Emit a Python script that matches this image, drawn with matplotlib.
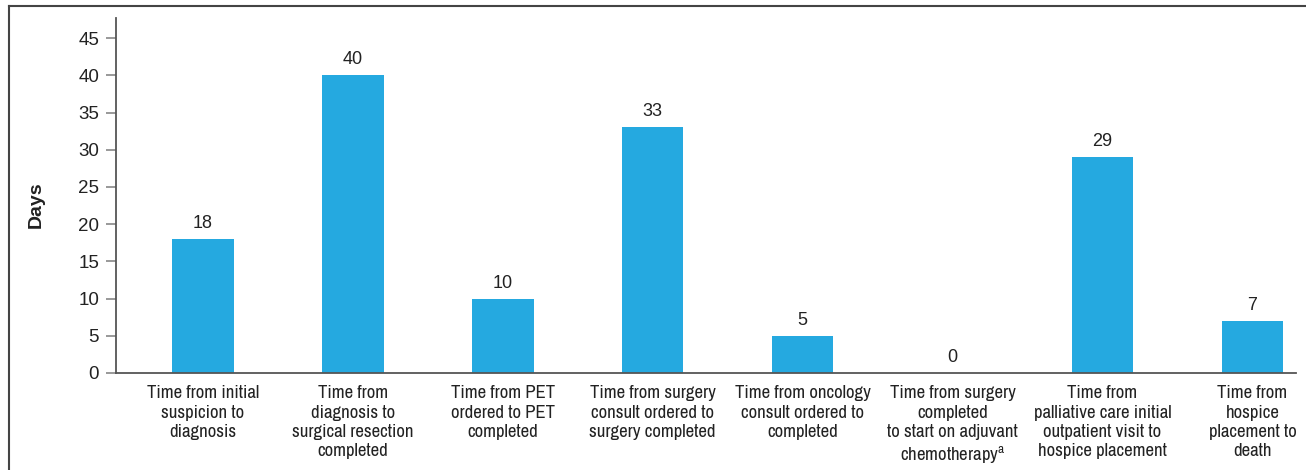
import matplotlib
matplotlib.use('Agg')
import matplotlib.pyplot as plt
from matplotlib.lines import Line2D

# data
categories = [
    "Time from initial\nsuspicion to\ndiagnosis",
    "Time from\ndiagnosis to\nsurgical resection\ncompleted",
    "Time from PET\nordered to PET\ncompleted",
    "Time from surgery\nconsult ordered to\nsurgery completed",
    "Time from oncology\nconsult ordered to\ncompleted",
    "Time from surgery\ncompleted\nto start on adjuvant\nchemotherapy$^{\\mathregular{a}}$",
    "Time from\npalliative care initial\noutpatient visit to\nhospice placement",
    "Time from\nhospice\nplacement to\ndeath",
]
days = [18, 40, 10, 33, 5, 0, 29, 7]
yticks = [0, 5, 10, 15, 20, 25, 30, 35, 40, 45]

bar_color = '#25a9e0'
text_color = '#222222'
axis_color = '#555555'
narrow = ['Liberation Sans Narrow', 'Archivo Narrow', 'Roboto Condensed', 'DejaVu Sans']

plt.rcParams['font.family'] = ['Liberation Sans', 'DejaVu Sans']

fig = plt.figure(figsize=(13.06, 4.70), dpi=100)
ax = fig.add_axes([0.0888, 0.2064, 0.9035, 0.7553])

x = list(range(len(days)))
bars = ax.bar(x, days, width=0.41, color=bar_color)

for xi, v in zip(x, days):
    ax.annotate(str(v), (xi, v), xytext=(0, 5), textcoords='offset points',
                ha='center', va='bottom', fontsize=13, color=text_color)

ax.set_xlim(-0.58, 7.29)
ax.set_ylim(0, 47.7)
ax.set_yticks(yticks)
ax.set_xticks(x)
ax.set_xticklabels(categories, fontsize=13.5, color=text_color, linespacing=1.25,
                   family=narrow)
ax.tick_params(axis='x', length=0, pad=9)
ax.tick_params(axis='y', length=7.2, width=1.2, color='#888888', pad=5,
               labelsize=13.5, labelcolor=text_color)

for s in ['top', 'right']:
    ax.spines[s].set_visible(False)
for s in ['left', 'bottom']:
    ax.spines[s].set_color(axis_color)
    ax.spines[s].set_linewidth(1.3)

ax.set_ylabel('Days', fontsize=14, fontweight='bold', color=text_color)
ax.yaxis.set_label_coords(-0.060, 0.473)

# outer frame (only top and left edges show in the crop)
fig.add_artist(Line2D([9 / 1306, 1], [1 - 6 / 470, 1 - 6 / 470], transform=fig.transFigure,
                      color='#444444', linewidth=1.5))
fig.add_artist(Line2D([9 / 1306, 9 / 1306], [0, 1 - 6 / 470], transform=fig.transFigure,
                      color='#444444', linewidth=1.5))

fig.savefig('out.png', dpi=100)
